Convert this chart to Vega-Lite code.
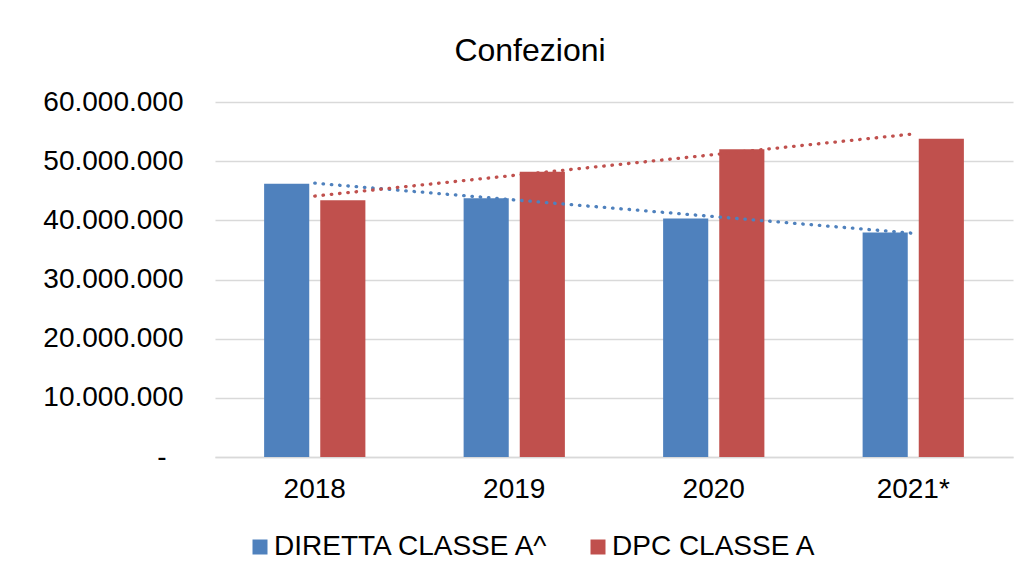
{
  "$schema": "https://vega.github.io/schema/vega-lite/v6.json",
  "autosize": {"type": "none"},
  "width": 798,
  "height": 355,
  "padding": {"left": 215, "top": 102, "right": 10, "bottom": 123},
  "title": {
    "text": "Confezioni",
    "fontSize": 32,
    "fontWeight": "normal",
    "font": "Liberation Sans",
    "color": "#000000",
    "anchor": "middle",
    "frame": "group",
    "dx": -84,
    "offset": 20
  },
  "config": {
    "font": "Liberation Sans",
    "view": {"stroke": null},
    "locale": {"number": {"decimal": ",", "thousands": ".", "grouping": [3], "currency": ["€", ""]}}
  },
  "data": {
    "values": [
      {"year": "2018", "idx": 0, "series": "DIRETTA CLASSE A^", "value": 46200000},
      {"year": "2019", "idx": 1, "series": "DIRETTA CLASSE A^", "value": 43750000},
      {"year": "2020", "idx": 2, "series": "DIRETTA CLASSE A^", "value": 40300000},
      {"year": "2021*", "idx": 3, "series": "DIRETTA CLASSE A^", "value": 37950000},
      {"year": "2018", "idx": 0, "series": "DPC CLASSE A", "value": 43400000},
      {"year": "2019", "idx": 1, "series": "DPC CLASSE A", "value": 48200000},
      {"year": "2020", "idx": 2, "series": "DPC CLASSE A", "value": 52000000},
      {"year": "2021*", "idx": 3, "series": "DPC CLASSE A", "value": 53800000}
    ]
  },
  "layer": [
    {
      "mark": {"type": "bar"},
      "encoding": {
        "x": {
          "field": "year", "type": "nominal", "sort": null,
          "scale": {"paddingInner": 0, "paddingOuter": 0},
          "axis": {
            "title": null, "labelAngle": 0, "labelFontSize": 28, "labelColor": "#000000",
            "ticks": false, "domainColor": "#d9d9d9", "domainWidth": 1.5, "labelPadding": 18
          }
        },
        "xOffset": {
          "field": "series", "type": "nominal",
          "scale": {"domain": ["DIRETTA CLASSE A^", "DPC CLASSE A"], "paddingInner": 0.196, "paddingOuter": 0.875}
        },
        "y": {
          "field": "value", "type": "quantitative",
          "scale": {"domain": [0, 60000000], "nice": false},
          "axis": {
            "title": null, "values": [0, 10000000, 20000000, 30000000, 40000000, 50000000, 60000000],
            "format": ",.0f",
            "labelExpr": "datum.value === 0 ? '-' : datum.label",
            "labelFontSize": 28, "labelColor": "#000000", "ticks": false, "domain": false,
            "gridColor": "#d9d9d9", "gridWidth": 1.5,
            "labelPadding": {"condition": {"test": "datum.value === 0", "value": 49}, "value": 32}
          }
        },
        "color": {
          "field": "series", "type": "nominal",
          "scale": {"domain": ["DIRETTA CLASSE A^", "DPC CLASSE A"], "range": ["#4F81BD", "#C0504D"]},
          "legend": {
            "title": null, "orient": "none", "direction": "horizontal",
            "legendX": 31, "legendY": 431,
            "symbolType": "square", "symbolSize": 225, "symbolStrokeWidth": 0,
            "labelFontSize": 28, "labelColor": "#000000", "labelOffset": 0,
            "columnPadding": 34, "labelLimit": 400
          }
        }
      }
    },
    {
      "transform": [
        {"regression": "value", "on": "idx", "groupby": ["series"]},
        {
          "lookup": "idx",
          "from": {
            "data": {"values": [
              {"idx": 0, "year": "2018"},
              {"idx": 1, "year": "2019"},
              {"idx": 2, "year": "2020"},
              {"idx": 3, "year": "2021*"}
            ]},
            "key": "idx",
            "fields": ["year"]
          }
        }
      ],
      "mark": {"type": "line", "strokeWidth": 3.3, "strokeDash": [0.5, 7.8], "strokeCap": "round"},
      "encoding": {
        "x": {"field": "year", "type": "nominal", "sort": null},
        "y": {"field": "value", "type": "quantitative"},
        "stroke": {
          "field": "series", "type": "nominal",
          "scale": {"domain": ["DIRETTA CLASSE A^", "DPC CLASSE A"], "range": ["#4F81BD", "#C0504D"]},
          "legend": null
        },
        "detail": {"field": "series"}
      }
    }
  ]
}
